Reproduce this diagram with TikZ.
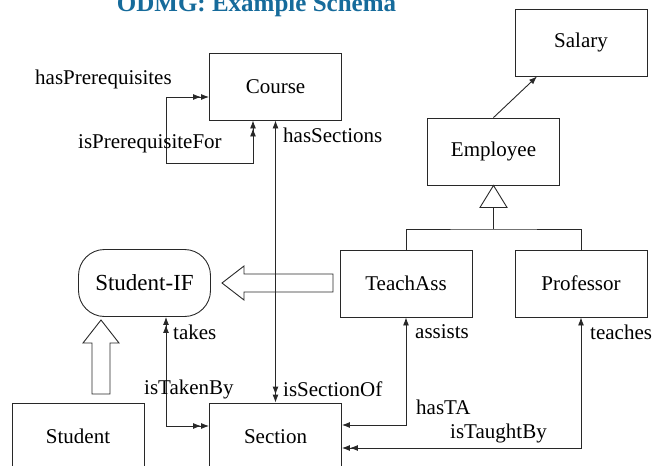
\documentclass[tikz,border=0pt]{standalone}
\usepackage{fontspec}
\setmainfont{Liberation Serif}
\usetikzlibrary{arrows.meta,positioning,calc}
\definecolor{odmgblue}{RGB}{22,107,155}
\definecolor{odmgline}{RGB}{40,40,40}
\tikzset{>={Latex[length=8pt,width=6pt]},
  cls/.style={draw=odmgline,line width=.9pt,minimum width=132pt,minimum height=67pt,inner sep=0pt,
    font=\fontsize{21}{24}\selectfont},
  iface/.style={cls,rounded corners=26pt,font=\fontsize{23}{26}\selectfont},
  rel/.style={line width=.9pt,odmgline},
  hollow/.style={line width=.9pt,odmgline,line join=miter},
  relname/.style={anchor=west,inner sep=0pt,font=\fontsize{21}{24}\selectfont}}

\begin{document}
\begin{tikzpicture}[x=1pt,y=-1pt]
\useasboundingbox (0,0) rectangle (654,466);
\node[anchor=base,text=odmgblue,font=\fontsize{25}{28}\selectfont\bfseries] (title) at (256.5,11) {ODMG: Example Schema};
% classes
\node[cls] (salary) at (581,42.5) {Salary};
\node[cls] (course) at (275.5,86.5) {Course};
\node[cls] (employee) at (493.5,151.5) {Employee};
\node[cls] (teachass) at (406,283.5) {TeachAss};
\node[cls] (professor) at (581,283.5) {Professor};
\node[iface] (studentif) at (144.5,283) {Student-IF};
\node[cls] (student) at (78,436.5) {Student};
\node[cls] (section) at (275.5,436.5) {Section};
% attribute link
\draw[rel,->] (employee.north) -- ([xshift=-44pt]salary.south);
% inheritance
\coordinate (isa) at (493.5,229);
\draw[hollow] (employee.south) -- ++(-13.5,22) coordinate (tri) -- ++(27,0) -- cycle;
\draw[rel] ($(tri)+(13.5,0)$) -- (isa);
\draw[rel] (teachass.north) |- (isa) -| (professor.north);
% interface arrows
\draw[hollow] (333,274) -- (244,274) -- (244,266) -- (222,283) -- (244,300) -- (244,292) -- (333,292) -- cycle;
\draw[hollow] (92,394) -- (92,343) -- (83,343) -- (101,320) -- (119,343) -- (110,343) -- (110,394) -- cycle;
% relationships
\coordinate (loopcorner) at (166,163);
\draw[rel,<<->>] ([xshift=-22.5pt]course.south) |- (loopcorner) |- ([yshift=-10.5pt]course.west);
\draw[rel,<->>] (course.south) -- (section.north);
\draw[rel,<<->>] ([xshift=21.5pt]studentif.south) |- ([yshift=10.5pt]section.west);
\draw[rel,<->] (teachass.south) |- ([yshift=11.5pt]section.east);
\draw[rel,<->>] (professor.south) |- ([yshift=-11.5pt]section.east);
% relationship names
\node[relname] (hasprereq) at (35,79) {hasPrerequisites};
\node[relname] (isprereq) at (78,144) {isPrerequisiteFor};
\node[relname] (hassections) at (283,135) {hasSections};
\node[relname] (issectionof) at (283,389) {isSectionOf};
\node[relname] (istakenby) at (144,389) {isTakenBy};
\node[relname] (takes) at (173,332) {takes};
\node[relname] (assists) at (415,332) {assists};
\node[relname] (teaches) at (590,332) {teaches};
\node[relname] (hasta) at (416,407) {hasTA};
\node[relname] (istaughtby) at (450,433) {isTaughtBy};
\end{tikzpicture}
\end{document}
